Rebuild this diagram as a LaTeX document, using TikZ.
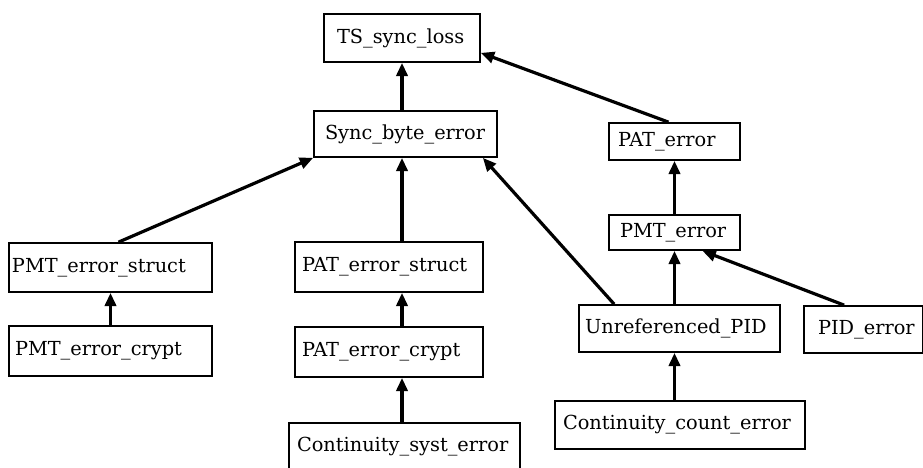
\documentclass[tikz,border=0pt]{standalone}
\usepackage{fontspec}
\setmainfont{DejaVu Serif}
\usetikzlibrary{arrows.meta,calc}
\begin{document}
\begin{tikzpicture}[x=0.75pt,y=-0.75pt,
  box/.style={draw, line width=1.3pt, align=left, inner ysep=0pt,
    font=\fontsize{14.5}{17}\selectfont},
  arr/.style={line width=2.4pt,
    -{Triangle[length=10pt, width=8.5pt]}},
]
\useasboundingbox (0,0) rectangle (923,467);

% boxes: centre, height, text width, left padding
\node[box, minimum height=36pt,    text width=97.5pt,   inner xsep=9.75pt] (ts)     at (402,38)      {TS\_sync\_loss};
\node[box, minimum height=34.5pt,  text width=120.75pt, inner xsep=8.25pt] (sync)   at (405.5,134)   {Sync\_byte\_error};
\node[box, minimum height=27.75pt, text width=84.75pt,  inner xsep=6.75pt] (pat)    at (674.5,141.5) {PAT\_error};
\node[box, minimum height=26.25pt, text width=81.75pt,  inner xsep=8.25pt] (pmt)    at (674.5,232.5) {PMT\_error};
\node[box, minimum height=35.25pt, text width=141.75pt, inner xsep=4.5pt]  (unref)  at (679.5,328.5) {Unreferenced\_PID};
\node[box, minimum height=35.25pt, text width=68.25pt,  inner xsep=10.5pt] (pid)    at (863.5,329.5) {PID\_error};
\node[box, minimum height=36pt,    text width=175.5pt,  inner xsep=6pt]    (ccount) at (680,425)     {Continuity\_count\_error};
\node[box, minimum height=36.75pt, text width=147.75pt, inner xsep=2.25pt] (pmts)   at (110.5,267.5) {PMT\_error\_struct};
\node[box, minimum height=37.5pt,  text width=143.25pt, inner xsep=4.5pt]  (pmtc)   at (110.5,351)   {PMT\_error\_crypt};
\node[box, minimum height=37.5pt,  text width=130.5pt,  inner xsep=5.25pt] (pats)   at (389,267)     {PAT\_error\_struct};
\node[box, minimum height=37.5pt,  text width=130.5pt,  inner xsep=5.25pt] (patc)   at (389,352)     {PAT\_error\_crypt};
\node[box, minimum height=36pt,    text width=161.25pt, inner xsep=6pt]    (csyst)  at (404.5,447)   {Continuity\_syst\_error};

% inheritance arrows
\draw[arr] (sync.north -| ts.south) -- (ts.south);
\draw[arr] ($(pat.north)+(-6,0)$) -- ($(ts.south east)+(0,-10)$);
\draw[arr] (pmt.north) -- (pat.south);
\draw[arr] (unref.north -| pmt.south) -- (pmt.south);
\draw[arr] ($(pid.north west)+(41,0)$) -- ($(pmt.south)+(28,0)$);
\draw[arr] ($(unref.north west)+(36,0)$) -- ($(sync.south east)+(-15,0)$);
\draw[arr] ($(pmts.north)+(8,0)$) -- (sync.south west);
\draw[arr] (pats.north -| ts.south) -- (sync.south -| ts.south);
\draw[arr] (patc.north -| ts.south) -- (pats.south -| ts.south);
\draw[arr] (csyst.north -| ts.south) -- (patc.south -| ts.south);
\draw[arr] (pmtc.north) -- (pmts.south);
\draw[arr] (ccount.north -| pmt.south) -- (unref.south -| pmt.south);
\end{tikzpicture}
\end{document}
